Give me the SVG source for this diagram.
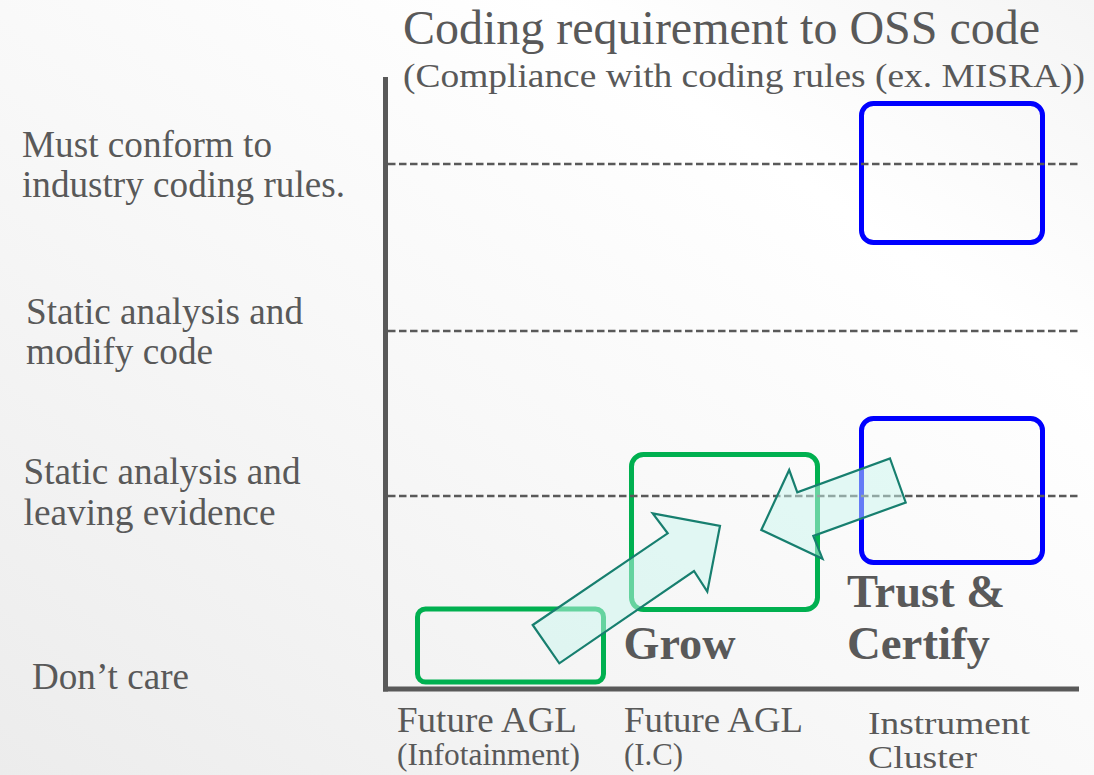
<svg xmlns="http://www.w3.org/2000/svg" width="1094" height="775" viewBox="0 0 1094 775">
  <defs>
    <linearGradient id="bg" x1="0" y1="1" x2="1" y2="0">
      <stop offset="0" stop-color="#ececec"/>
      <stop offset="0.45" stop-color="#f8f8f8"/>
      <stop offset="0.75" stop-color="#ffffff"/>
      <stop offset="1" stop-color="#f5f5f5"/>
    </linearGradient>
    <style>
      text { font-family: "Liberation Serif", "Times New Roman", serif; fill: #595959; }
      .lbl { font-size: 37px; }
      .xl { font-size: 35px; }
      .xc { font-size: 32px; }
      .sub { font-size: 31px; }
      .big { font-size: 47px; font-weight: bold; }
      .axis { stroke: #595959; stroke-width: 5; fill: none; }
      .grid { stroke: #595959; stroke-width: 2.5; stroke-dasharray: 7.5 3.5; fill: none; }
      .green { fill: none; stroke: #00B050; stroke-width: 5; }
      .blue { fill: none; stroke: #0000FF; stroke-width: 5; }
      .arrow { fill: #C9F5ED; fill-opacity: 0.5; stroke: #177F6F; stroke-width: 2.2; stroke-linejoin: miter; }
    </style>
  </defs>

  <rect x="0" y="0" width="1094" height="775" fill="url(#bg)"/>

  <g id="title" font-family="Liberation Serif, Times New Roman, serif">
    <text x="403" y="44" style="font-size:48px" textLength="637" lengthAdjust="spacingAndGlyphs">Coding requirement to OSS code</text>
    <text x="403" y="87" style="font-size:34px" textLength="682" lengthAdjust="spacingAndGlyphs">(Compliance with coding rules (ex. MISRA))</text>
  </g>

  <g id="y-labels" font-family="Liberation Serif, Times New Roman, serif">
    <text class="lbl" x="22" y="157" textLength="250" lengthAdjust="spacingAndGlyphs">Must conform to</text>
    <text class="lbl" x="22" y="197" textLength="323" lengthAdjust="spacingAndGlyphs">industry coding rules.</text>
    <text class="lbl" x="26" y="323.5" textLength="277" lengthAdjust="spacingAndGlyphs">Static analysis and</text>
    <text class="lbl" x="26" y="363.5" textLength="187" lengthAdjust="spacingAndGlyphs">modify code</text>
    <text class="lbl" x="23.5" y="484" textLength="277" lengthAdjust="spacingAndGlyphs">Static analysis and</text>
    <text class="lbl" x="23.5" y="525" textLength="252" lengthAdjust="spacingAndGlyphs">leaving evidence</text>
    <text class="lbl" x="32" y="689" textLength="157" lengthAdjust="spacingAndGlyphs">Don’t care</text>
  </g>

  <g id="x-labels" font-family="Liberation Serif, Times New Roman, serif">
    <text class="xl" x="397" y="732" textLength="180" lengthAdjust="spacingAndGlyphs">Future AGL</text>
    <text class="sub" x="397" y="765" textLength="183" lengthAdjust="spacingAndGlyphs">(Infotainment)</text>
    <text class="xl" x="624" y="732" textLength="179" lengthAdjust="spacingAndGlyphs">Future AGL</text>
    <text class="sub" x="624" y="765" textLength="59" lengthAdjust="spacingAndGlyphs">(I.C)</text>
    <text class="xc" x="868" y="734" textLength="162" lengthAdjust="spacingAndGlyphs">Instrument</text>
    <text class="xc" x="868" y="768" textLength="109" lengthAdjust="spacingAndGlyphs">Cluster</text>
  </g>

  <g id="node-infotainment">
    <rect class="green" x="417.5" y="609" width="186" height="73" rx="8"/>
  </g>
  <g id="node-ic">
    <rect class="green" x="631.5" y="454.5" width="186" height="155" rx="12"/>
  </g>
  <g id="node-cluster-top">
    <rect class="blue" x="861.5" y="103.5" width="181" height="139" rx="12"/>
  </g>
  <g id="node-cluster">
    <rect class="blue" x="861.5" y="418.5" width="181" height="144" rx="12"/>
  </g>

  <g id="axes">
    <line class="axis" x1="385.5" y1="77" x2="385.5" y2="691.5"/>
    <line class="axis" x1="383" y1="689" x2="1079" y2="689"/>
    <line class="grid" x1="388" y1="164" x2="1079" y2="164"/>
    <line class="grid" x1="388" y1="331" x2="1079" y2="331"/>
    <line class="grid" x1="388" y1="496" x2="1079" y2="496"/>
  </g>

  <g id="connectors">
    <polygon class="arrow" points="532.7,625 667.7,533.3 652.7,513.3 720,526 707.3,591.7 694,571 559.3,663.3"/>
    <polygon class="arrow" points="890,458.5 905.7,502.5 813.3,536 822.5,558.7 761.3,530 789.2,470 797.3,492.3"/>
  </g>

  <g id="node-grow" font-family="Liberation Serif, Times New Roman, serif">
    <text class="big" x="623.5" y="658.5" textLength="112" lengthAdjust="spacingAndGlyphs">Grow</text>
  </g>
  <g id="node-trust" font-family="Liberation Serif, Times New Roman, serif">
    <text class="big" x="847" y="607" textLength="158" lengthAdjust="spacingAndGlyphs">Trust &amp;</text>
    <text class="big" x="847" y="658.5" textLength="143" lengthAdjust="spacingAndGlyphs">Certify</text>
  </g>
</svg>
